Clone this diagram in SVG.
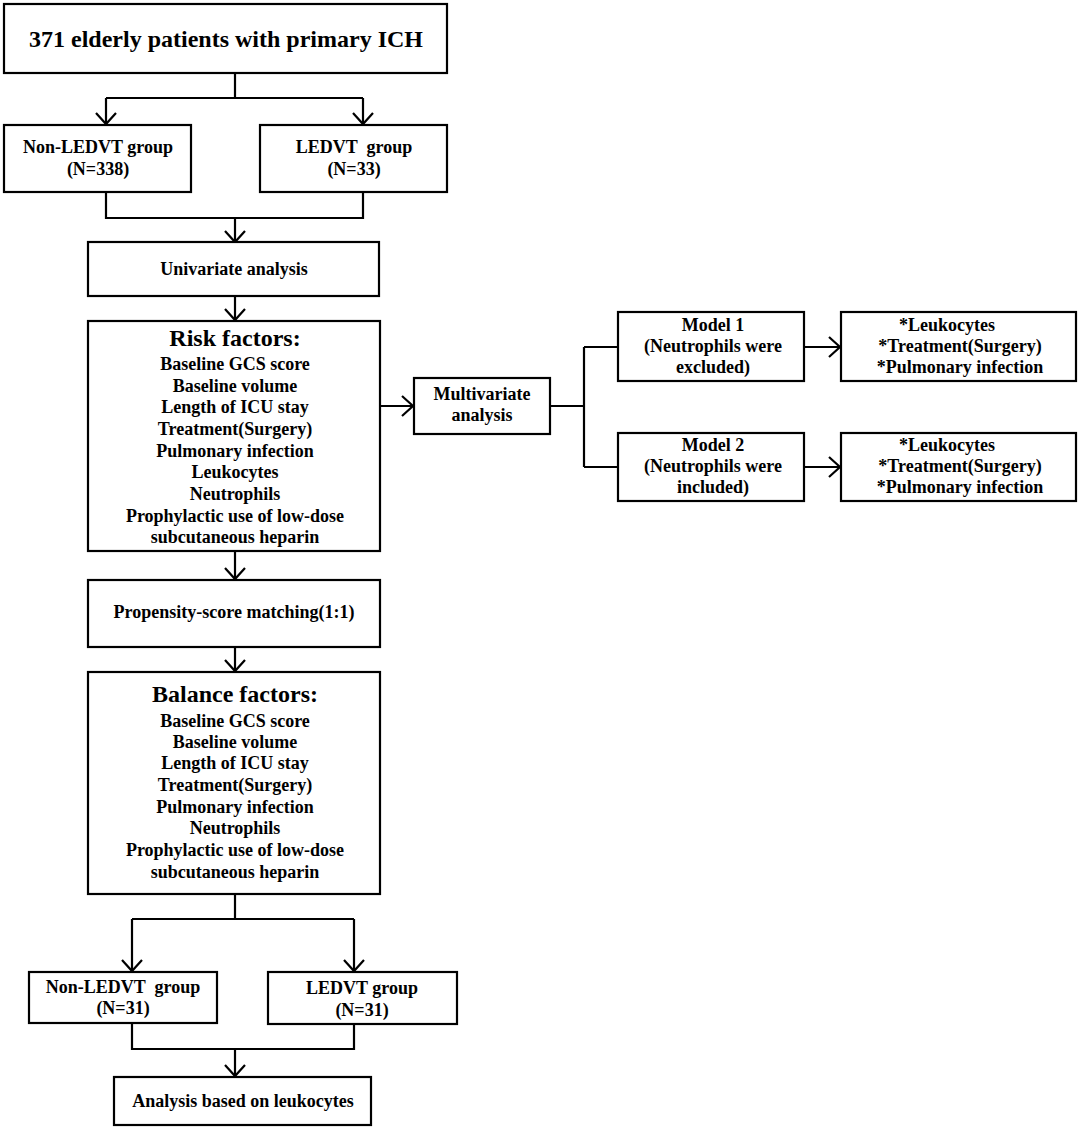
<svg xmlns="http://www.w3.org/2000/svg" width="1084" height="1128" viewBox="0 0 1084 1128">
<defs>
<style>
.box{fill:#fff;stroke:#000;stroke-width:2.2}
.ln{fill:none;stroke:#000;stroke-width:2.2}
text{font-family:"Liberation Serif","Times New Roman",serif;font-weight:bold;fill:#000;text-anchor:middle}
.t18{font-size:18px}
.t24{font-size:24px}
</style>
<marker id="ah" markerUnits="userSpaceOnUse" markerWidth="26" markerHeight="26" viewBox="-13 -13 26 26" refX="0" refY="0" orient="auto">
<path d="M-11,-10 L0,0 L-11,10" fill="none" stroke="#000" stroke-width="2.2"/>
</marker>
</defs>
<rect width="1084" height="1128" fill="#fff"/>
<g id="connectors">
<path class="ln" d="M235,73 V98 M106,98 H363"/>
<path class="ln" d="M106,98 V124" marker-end="url(#ah)"/>
<path class="ln" d="M363,98 V124" marker-end="url(#ah)"/>
<path class="ln" d="M106,192 V218 H363 V192"/>
<path class="ln" d="M235,218 V242" marker-end="url(#ah)"/>
<path class="ln" d="M235,296 V320" marker-end="url(#ah)"/>
<path class="ln" d="M380,406 H413" marker-end="url(#ah)"/>
<path class="ln" d="M550,406 H584 M584,347 V467 M584,347 H618 M584,467 H618"/>
<path class="ln" d="M804,347 H840" marker-end="url(#ah)"/>
<path class="ln" d="M804,467 H840" marker-end="url(#ah)"/>
<path class="ln" d="M235,551 V579" marker-end="url(#ah)"/>
<path class="ln" d="M235,647 V671" marker-end="url(#ah)"/>
<path class="ln" d="M235,894 V919 M132,919 H354"/>
<path class="ln" d="M132,919 V971" marker-end="url(#ah)"/>
<path class="ln" d="M354,919 V971" marker-end="url(#ah)"/>
<path class="ln" d="M132,1023 V1049 H354 V1023"/>
<path class="ln" d="M235,1049 V1076" marker-end="url(#ah)"/>
</g>
<g id="n-all">
<rect class="box" x="4" y="4" width="443" height="69"/>
<text class="t24" x="226" y="47">371 elderly patients with primary ICH</text>
</g>
<g id="n-nonledvt1">
<rect class="box" x="4" y="125" width="187" height="67"/>
<text class="t18" x="98" y="153">Non-LEDVT group</text>
<text class="t18" x="98" y="175">(N=338)</text>
</g>
<g id="n-ledvt1">
<rect class="box" x="260" y="125" width="187" height="67"/>
<text class="t18" x="354" y="153" xml:space="preserve">LEDVT  group</text>
<text class="t18" x="354" y="175">(N=33)</text>
</g>
<g id="n-univariate">
<rect class="box" x="88" y="242" width="291" height="54"/>
<text class="t18" x="234" y="275">Univariate analysis</text>
</g>
<g id="n-risk">
<rect class="box" x="88" y="321" width="292" height="230"/>
<text class="t24" x="235" y="346">Risk factors:</text>
<text class="t18" x="235" y="370">Baseline GCS score</text>
<text class="t18" x="235" y="392">Baseline volume</text>
<text class="t18" x="235" y="413">Length of ICU stay</text>
<text class="t18" x="235" y="435">Treatment(Surgery)</text>
<text class="t18" x="235" y="457">Pulmonary infection</text>
<text class="t18" x="235" y="478">Leukocytes</text>
<text class="t18" x="235" y="500">Neutrophils</text>
<text class="t18" x="235" y="522">Prophylactic use of low-dose</text>
<text class="t18" x="235" y="543">subcutaneous heparin</text>
</g>
<g id="n-multivariate">
<rect class="box" x="414" y="378" width="136" height="56"/>
<text class="t18" x="482" y="400">Multivariate</text>
<text class="t18" x="482" y="421">analysis</text>
</g>
<g id="n-model1">
<rect class="box" x="618" y="312" width="186" height="69"/>
<text class="t18" x="713" y="331">Model 1</text>
<text class="t18" x="713" y="352">(Neutrophils were</text>
<text class="t18" x="713" y="373">excluded)</text>
</g>
<g id="n-result1">
<rect class="box" x="841" y="312" width="235" height="69"/>
<text class="t18" x="947" y="331">*Leukocytes</text>
<text class="t18" x="960" y="352">*Treatment(Surgery)</text>
<text class="t18" x="960" y="373">*Pulmonary infection</text>
</g>
<g id="n-model2">
<rect class="box" x="618" y="433" width="186" height="68"/>
<text class="t18" x="713" y="451">Model 2</text>
<text class="t18" x="713" y="472">(Neutrophils were</text>
<text class="t18" x="713" y="493">included)</text>
</g>
<g id="n-result2">
<rect class="box" x="841" y="433" width="235" height="68"/>
<text class="t18" x="947" y="451">*Leukocytes</text>
<text class="t18" x="960" y="472">*Treatment(Surgery)</text>
<text class="t18" x="960" y="493">*Pulmonary infection</text>
</g>
<g id="n-psm">
<rect class="box" x="88" y="580" width="292" height="67"/>
<text class="t18" x="234" y="618">Propensity-score matching(1:1)</text>
</g>
<g id="n-balance">
<rect class="box" x="88" y="672" width="292" height="222"/>
<text class="t24" x="235" y="702">Balance factors:</text>
<text class="t18" x="235" y="727">Baseline GCS score</text>
<text class="t18" x="235" y="748">Baseline volume</text>
<text class="t18" x="235" y="769">Length of ICU stay</text>
<text class="t18" x="235" y="791">Treatment(Surgery)</text>
<text class="t18" x="235" y="813">Pulmonary infection</text>
<text class="t18" x="235" y="834">Neutrophils</text>
<text class="t18" x="235" y="856">Prophylactic use of low-dose</text>
<text class="t18" x="235" y="878">subcutaneous heparin</text>
</g>
<g id="n-nonledvt2">
<rect class="box" x="29" y="972" width="188" height="51"/>
<text class="t18" x="123" y="993" xml:space="preserve">Non-LEDVT  group</text>
<text class="t18" x="123" y="1014">(N=31)</text>
</g>
<g id="n-ledvt2">
<rect class="box" x="268" y="972" width="189" height="52"/>
<text class="t18" x="362" y="994">LEDVT group</text>
<text class="t18" x="362" y="1016">(N=31)</text>
</g>
<g id="n-analysis">
<rect class="box" x="114" y="1077" width="257" height="48"/>
<text class="t18" x="243" y="1107">Analysis based on leukocytes</text>
</g>
</svg>
